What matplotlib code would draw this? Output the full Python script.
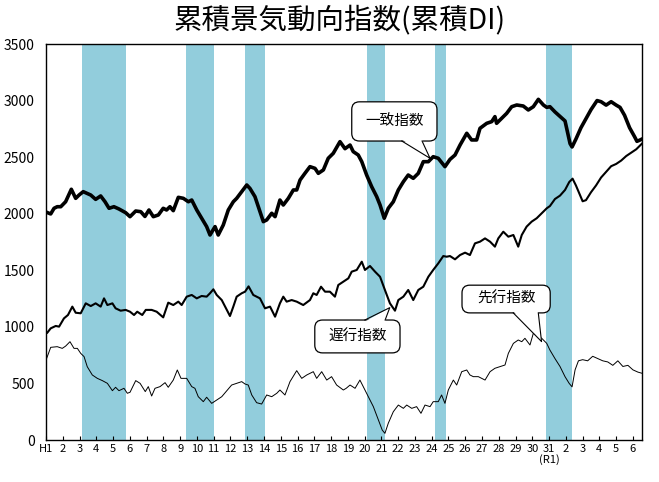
# -*- coding: utf-8 -*-
import numpy as np
import matplotlib
matplotlib.use("Agg")
import matplotlib.pyplot as plt
from matplotlib.patches import FancyBboxPatch, Polygon

plt.rcParams['font.family'] = ['Noto Sans CJK JP', 'DejaVu Sans']

# ==================================================
# data (years since Jan H1 = 1989)
# ==================================================

title = "累積景気動向指数(累積DI)"

# 一致指数
coin_t = [0.00, 0.28, 0.48, 0.67, 0.88, 1.17, 1.51, 1.77, 1.97, 2.22, 2.67, 2.96,
          3.26, 3.52, 3.76, 4.05, 4.35, 4.75, 5.01, 5.35, 5.65, 5.90, 6.14, 6.40,
          6.70, 6.99, 7.19, 7.39, 7.59, 7.89, 8.19, 8.49, 8.69, 8.99, 9.28, 9.58,
          9.78, 10.08, 10.27, 10.57, 10.87, 11.17, 11.37, 11.67, 11.97, 12.16, 12.46,
          12.66, 12.96, 13.16, 13.46, 13.66, 13.95, 14.15, 14.45, 14.75, 14.95, 15.15,
          15.44, 15.74, 16.04, 16.24, 16.54, 16.83, 17.13, 17.53, 17.83, 18.13, 18.32,
          18.62, 18.83, 19.12, 19.42, 19.72, 19.92, 20.17, 20.41, 20.71, 21.01, 21.31,
          21.60, 21.90, 22.20, 22.50, 22.80, 23.09, 23.39, 23.79, 24.09, 24.39, 24.69,
          25.09, 25.38, 25.68, 25.88, 26.28, 26.58, 26.77, 26.87, 27.17, 27.47, 27.77,
          28.07, 28.46, 28.76, 29.06, 29.36, 29.66, 29.86, 30.05, 30.35, 30.65, 30.95,
          31.10, 31.25, 31.37, 31.60, 31.90, 32.20, 32.50, 32.86, 33.10, 33.40, 33.70,
          34.00, 34.23, 34.50, 34.80, 35.10, 35.24, 35.40, 35.54]
coin_v = [2015, 1998, 2048, 2062, 2062, 2106, 2216, 2136, 2165, 2195, 2165, 2127,
          2157, 2106, 2048, 2062, 2042, 2009, 1974, 2024, 2018, 1976, 2033, 1974,
          1989, 2048, 2033, 2062, 2027, 2145, 2136, 2106, 2121, 2033, 1960, 1886,
          1812, 1886, 1812, 1900, 2033, 2106, 2136, 2195, 2254, 2224, 2151,
          2062, 1930, 1945, 2004, 1974, 2121, 2077, 2136, 2210, 2210, 2298,
          2357, 2416, 2401, 2357, 2387, 2490, 2534, 2637, 2575, 2607, 2549,
          2519, 2460, 2342, 2239, 2151, 2077, 1960, 2048, 2106, 2210, 2283,
          2342, 2313, 2357, 2460, 2460, 2504, 2490, 2416, 2480, 2519, 2607,
          2711, 2652, 2652, 2755, 2799, 2814, 2858, 2799, 2843, 2887, 2946,
          2961, 2952, 2917, 2946, 3011, 2961, 2940, 2946, 2900, 2860, 2820,
          2720, 2620, 2590, 2660, 2760, 2840, 2920, 3000, 2990, 2960, 2990,
          2960, 2940, 2870, 2760, 2680, 2640, 2650, 2660]

# 遅行指数
lag_t = [0.08, 0.28, 0.58, 0.78, 1.07, 1.31, 1.57, 1.77, 2.07, 2.37, 2.67, 2.96,
         3.26, 3.46, 3.66, 3.96, 4.15, 4.45, 4.75, 5.01, 5.25, 5.44, 5.74, 5.95,
         6.30, 6.60, 6.99, 7.29, 7.59, 7.89, 8.09, 8.39, 8.69, 8.99, 9.28, 9.58,
         9.78, 9.98, 10.18, 10.48, 10.78, 10.97, 11.17, 11.37, 11.67, 11.87, 12.08,
         12.36, 12.76, 13.06, 13.36, 13.66, 13.95, 14.15, 14.35, 14.65, 14.95, 15.34,
         15.74, 15.94, 16.14, 16.40, 16.64, 16.93, 17.23, 17.43, 17.73, 18.03, 18.23,
         18.53, 18.83, 19.02, 19.32, 19.62, 19.92, 20.21, 20.51, 20.81, 21.01, 21.31,
         21.60, 21.90, 22.20, 22.50, 22.80, 23.09, 23.39, 23.69, 23.89, 24.09, 24.39,
         24.69, 24.99, 25.28, 25.58, 25.88, 26.18, 26.48, 26.77, 26.97, 27.27, 27.57,
         27.87, 28.16, 28.37, 28.66, 28.96, 29.26, 29.56, 29.86, 30.05, 30.35, 30.65,
         30.95, 31.20, 31.40, 31.60, 31.80, 32.00, 32.20, 32.50, 32.80, 33.10, 33.40,
         33.70, 34.00, 34.30, 34.60, 34.90, 35.20, 35.54]
lag_v = [949, 987, 1008, 1002, 1075, 1105, 1179, 1125, 1120, 1208, 1184, 1208,
         1179, 1252, 1193, 1208, 1164, 1143, 1150, 1134, 1105, 1134, 1105, 1150,
         1150, 1134, 1084, 1214, 1193, 1223, 1193, 1267, 1282, 1252, 1273, 1267,
         1297, 1332, 1282, 1237, 1150, 1096, 1179, 1267, 1297, 1311, 1358,
         1282, 1252, 1164, 1179, 1090, 1208, 1267, 1223, 1237, 1223, 1193,
         1237, 1297, 1282, 1355, 1311, 1311, 1267, 1370, 1399, 1429, 1488,
         1503, 1576, 1503, 1538, 1488, 1443, 1326, 1208, 1143, 1237, 1267,
         1326, 1237, 1326, 1355, 1443, 1503, 1561, 1626, 1620, 1626, 1597,
         1635, 1656, 1635, 1738, 1753, 1782, 1753, 1709, 1782, 1841, 1797,
         1812, 1709, 1812, 1886, 1930, 1960, 2004, 2048, 2068, 2130, 2160,
         2210, 2280, 2310, 2250, 2180, 2110, 2120, 2190, 2250, 2320, 2370,
         2420, 2440, 2470, 2510, 2540, 2570, 2620]

# 先行指数
lead_t = [0.04, 0.28, 0.67, 0.97, 1.17, 1.43, 1.67, 1.87, 2.07, 2.27, 2.46, 2.76,
          3.06, 3.36, 3.66, 3.96, 4.15, 4.35, 4.65, 4.85, 5.01, 5.35, 5.61, 5.92,
          6.10, 6.30, 6.50, 6.80, 7.10, 7.29, 7.59, 7.83, 8.05, 8.39, 8.69, 8.88,
          9.08, 9.38, 9.58, 9.88, 10.18, 10.48, 10.78, 11.07, 11.37, 11.67, 11.87,
          12.06, 12.27, 12.56, 12.86, 13.16, 13.46, 13.76, 13.95, 14.25, 14.55, 14.95,
          15.25, 15.55, 15.94, 16.14, 16.44, 16.74, 17.03, 17.33, 17.73, 17.90, 18.13,
          18.43, 18.72, 18.92, 19.22, 19.52, 19.82, 20.05, 20.21, 20.41, 20.71, 21.01,
          21.31, 21.51, 21.81, 22.10, 22.36, 22.60, 22.90, 23.09, 23.39, 23.59, 23.79,
          23.99, 24.29, 24.49, 24.79, 25.09, 25.28, 25.48, 25.78, 26.18, 26.48, 26.77,
          27.07, 27.37, 27.57, 27.87, 28.16, 28.37, 28.56, 28.86, 29.06, 29.26, 29.56,
          29.86, 30.05, 30.35, 30.65, 30.95, 31.20, 31.37, 31.55, 31.75, 32.00, 32.30,
          32.60, 32.90, 33.20, 33.50, 33.80, 34.10, 34.40, 34.70, 35.00, 35.30, 35.54]
lead_v = [722, 819, 825, 810, 830, 869, 810, 810, 766, 737, 648, 575,
          545, 525, 501, 436, 466, 436, 457, 413, 422, 525, 501, 428,
          472, 389, 457, 472, 507, 466, 530, 619, 545, 545, 472, 457,
          383, 339, 378, 324, 354, 383, 436, 486, 501, 516, 495,
          486, 398, 330, 318, 398, 383, 413, 442, 398, 516, 613,
          545, 575, 604, 545, 604, 530, 560, 486, 442, 457, 486,
          457, 530, 472, 383, 295, 177, 88, 59, 148, 250, 309,
          280, 309, 280, 295, 236, 309, 295, 339, 339, 398, 324,
          442, 530, 486, 604, 619, 575, 560, 560, 530, 604, 634,
          648, 663, 766, 854, 884, 869, 899, 840, 943, 928, 899,
          854, 795, 720, 650, 560, 500, 470, 620, 700, 710, 700,
          740, 720, 700, 690, 660, 700, 650, 660, 620, 600, 590]

# 景気後退期 (山 -> 谷)
rec_start = ["1991-02", "1997-05", "2000-11", "2008-02", "2012-03", "2018-10"]
rec_end = ["1993-10", "1999-01", "2002-01", "2009-03", "2012-11", "2020-05"]

years = list(range(1989, 2025))
year_labels = ["H1"] + [str(i) for i in range(2, 31)] + ["31\n(R1)", "2", "3", "4", "5", "6"]


def ym(s):
    y, m = s.split("-")
    return int(y) + (int(m) - 0.5) / 12


def callout(ax, text, box, base, tip):
    # box = (x0, y0, x1, y1) axes fraction, base = (xa, xb, y), tip in data
    x0, y0, x1, y1 = box
    patch = FancyBboxPatch((x0, y0), x1 - x0, y1 - y0,
                           boxstyle="round,pad=0,rounding_size=0.013",
                           mutation_aspect=596 / 396,
                           transform=ax.transAxes, fc="white", ec="black",
                           lw=0.9, zorder=5, clip_on=False)
    ax.add_patch(patch)
    tx, ty = ax.transAxes.inverted().transform(ax.transData.transform(tip))
    xa, xb, yb = base
    inset = 0.004 if yb > ty else -0.004
    tri = Polygon([(xa, yb + inset), (xb, yb + inset), (tx, ty)], closed=True,
                  transform=ax.transAxes, fc="white", ec="none", zorder=6)
    ax.add_patch(tri)
    ax.plot([xa, tx, xb], [yb, ty, yb], color="black", lw=0.8,
            transform=ax.transAxes, zorder=7, clip_on=False)
    ax.text((x0 + x1) / 2, (y0 + y1) / 2, text, transform=ax.transAxes,
            ha="center", va="center", fontsize=10.5, zorder=8)


# ==================================================
# plot
# ==================================================

fig = plt.figure(figsize=(6.59, 4.82), dpi=100)
ax = fig.add_axes([0.0698, 0.0871, 0.9044, 0.8216])

for s, e in zip(rec_start, rec_end):
    ax.axvspan(ym(s), ym(e), color="#92CDDC", lw=0, zorder=0)

ax.plot(1989 + np.array(coin_t), coin_v, color="black", lw=2.6, zorder=3)
ax.plot(1989 + np.array(lag_t), lag_v, color="black", lw=1.5, zorder=3)
ax.plot(1989 + np.array(lead_t), lead_v, color="black", lw=0.7, zorder=3)

ax.set_xlim(1989, 2024.54)
ax.set_ylim(0, 3500)
ax.set_yticks(range(0, 3501, 500))
ax.set_xticks(years)
ax.set_xticklabels(year_labels, linespacing=1.0)
ax.tick_params(axis="y", length=0, pad=8, labelsize=10)
ax.tick_params(axis="x", direction="in", length=3, width=0.8, pad=3, labelsize=8)
for sp in ax.spines.values():
    sp.set_linewidth(1.0)

fig.text(0.516, 0.958, title, ha="center", va="center", fontsize=20.5)

# callouts
callout(ax, "一致指数", (0.513, 0.755, 0.656, 0.854), (0.597, 0.631, 0.755), (2011.9, 2490))
callout(ax, "遅行指数", (0.451, 0.220, 0.594, 0.303), (0.535, 0.569, 0.303), (2009.5, 1170))
callout(ax, "先行指数", (0.698, 0.321, 0.846, 0.391), (0.784, 0.826, 0.321), (2018.55, 870))

fig.savefig("out.png", dpi=100)
